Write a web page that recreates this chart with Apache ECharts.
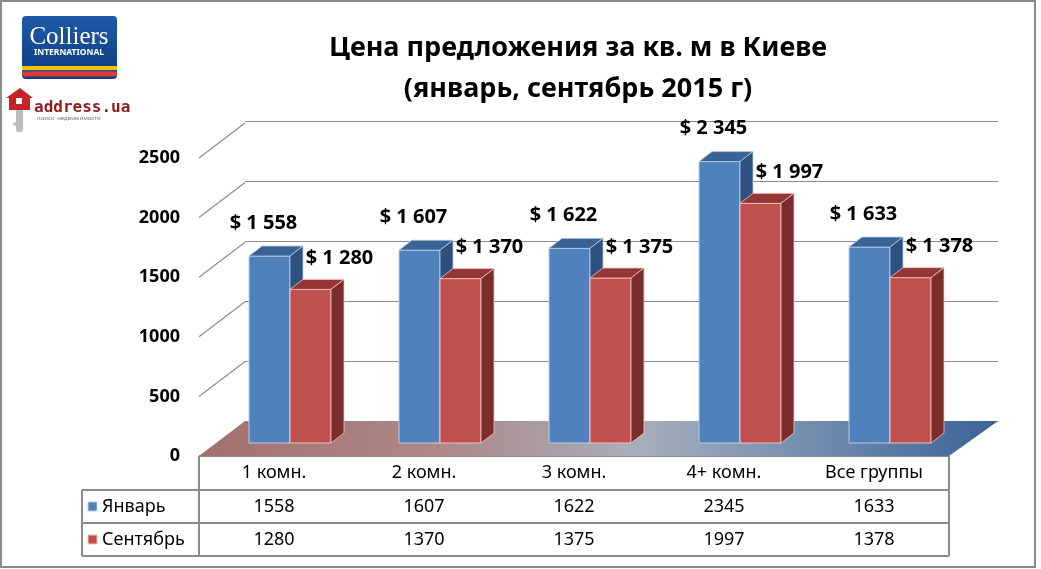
<!DOCTYPE html>
<html>
<head>
<meta charset="utf-8">
<script src="https://cdn.jsdelivr.net/npm/echarts@6/dist/echarts.min.js"></script>
<style>
  html, body { margin: 0; padding: 0; background: #fff; }
  #chart { width: 1041px; height: 569px; }
</style>
</head>
<body>
<div id="chart"></div>
<script>
// данные
var categories = ['1 комн.', '2 комн.', '3 комн.', '4+ комн.', 'Все группы'];
var january = [1558, 1607, 1622, 2345, 1633];
var september = [1280, 1370, 1375, 1997, 1378];
var seriesNames = ['Январь', 'Сентябрь'];
var yTicks = [0, 500, 1000, 1500, 2000, 2500];

var FONT = '"Noto Sans", "DejaVu Sans", sans-serif';
var chart = echarts.init(document.getElementById('chart'));

var pal = [
    { front: '#4f81bd', top: '#3a6395', side: '#2e5080', edge: '#b9cde5' },
    { front: '#c0504d', top: '#943634', side: '#7b2d2c', edge: '#f2c3c2' }
];

function money(v) {
    return '$ ' + String(v).replace(/\B(?=(\d{3})+(?!\d))/g, ' ');
}

// 3d bar: front + top + side face
function barItem(s) {
    return function (params, api) {
        var i = api.value(0), v = api.value(1);
        var base = api.coord([i, 0]);
        var top = api.coord([i, v]);
        var w = 41, dx = 13, dy = -10;
        var x0 = s === 0 ? base[0] - w : base[0];
        var c = pal[s];
        var lx = s === 0 ? x0 + w / 2 - 6 : x0 + w / 2 + 29;
        var ly = s === 0 ? top[1] - 33 : top[1] - 31;
        return {
            type: 'group',
            children: [
                { type: 'rect', shape: { x: x0, y: top[1], width: w, height: base[1] - top[1] },
                  style: { fill: c.front, stroke: c.edge, lineWidth: 1 } },
                { type: 'polygon', shape: { points: [[x0, top[1]], [x0 + w, top[1]], [x0 + w + dx, top[1] + dy], [x0 + dx, top[1] + dy]] },
                  style: { fill: c.top, stroke: c.edge, lineWidth: 0.8 } },
                { type: 'polygon', shape: { points: [[x0 + w, top[1]], [x0 + w + dx, top[1] + dy], [x0 + w + dx, base[1] + dy], [x0 + w, base[1]]] },
                  style: { fill: c.side, stroke: c.edge, lineWidth: 0.8 } },
                { type: 'text', z2: 10, style: { text: money(v), x: lx, y: ly, align: 'center', verticalAlign: 'middle',
                  fontFamily: FONT, fontSize: 20, fontWeight: 'bold', fill: '#000' } }
            ]
        };
    };
}

// table cells
var tableTexts = [];
var tableData = [];
categories.forEach(function (c, i) {
    tableData.push([i, 0]); tableTexts.push(c);
    tableData.push([i, 1]); tableTexts.push(String(january[i]));
    tableData.push([i, 2]); tableTexts.push(String(september[i]));
});
var rowY = [473, 507, 540];

var option = {
    animation: false,
    title: {
        text: 'Цена предложения за кв. м в Киеве\n(январь, сентябрь 2015 г)',
        left: 578, top: 28, textAlign: 'center', padding: 0,
        textStyle: { fontFamily: FONT, fontSize: 27, fontWeight: 'bold', color: '#000', lineHeight: 41 }
    },
    grid: [
        { left: 199, top: 158, width: 750, height: 298 },   // front plane
        { left: 245, top: 121, width: 753, height: 300 },   // back wall
        { left: 215, top: 143, width: 750, height: 300 }    // bar plane
    ],
    xAxis: [0, 1, 2].map(function (g) {
        return { type: 'category', gridIndex: g, data: categories, show: false };
    }),
    yAxis: [0, 1, 2].map(function (g) {
        return {
            type: 'value', gridIndex: g, min: 0, max: 2500, interval: 500,
            axisLine: { show: false }, axisTick: { show: false },
            splitLine: { show: g === 1, lineStyle: { color: '#8c8c8c', width: 1.2 } },
            axisLabel: g === 0 ? {
                margin: 19, fontFamily: FONT, fontSize: 18, fontWeight: 'bold', color: '#000',
                formatter: function (v) { return String(v); }
            } : { show: false }
        };
    }),
    series: [
        {   // floor + left wall diagonals
            type: 'custom', xAxisIndex: 0, yAxisIndex: 0, z: 1, silent: true,
            data: yTicks.map(function (t) { return [0, t]; }),
            renderItem: function (params, api) {
                var cs = params.coordSys;
                var t = api.value(1);
                var y = api.coord([0, t])[1];
                var x0 = cs.x;
                var children = [];
                if (t === 0) {
                    children.push({
                        type: 'polygon',
                        shape: { points: [[x0, y], [x0 + cs.width, y], [x0 + cs.width + 49, y - 35], [x0 + 46, y - 35]] },
                        style: {
                            fill: new echarts.graphic.LinearGradient(0, 1, 1, 0, [
                                { offset: 0, color: '#a3706e' },
                                { offset: 0.3, color: '#ad8887' },
                                { offset: 0.55, color: '#a6afbb' },
                                { offset: 0.8, color: '#6a87ac' },
                                { offset: 1, color: '#3a6397' }
                            ])
                        }
                    });
                } else {
                    children.push({
                        type: 'line', shape: { x1: x0, y1: y, x2: x0 + 46, y2: y - 35 },
                        style: { stroke: '#8c8c8c', lineWidth: 1.2 }
                    });
                }
                return { type: 'group', children: children };
            }
        },
        {
            name: seriesNames[0], type: 'custom', xAxisIndex: 2, yAxisIndex: 2, z: 3,
            data: january.map(function (v, i) { return [i, v]; }),
            renderItem: barItem(0)
        },
        {
            name: seriesNames[1], type: 'custom', xAxisIndex: 2, yAxisIndex: 2, z: 4,
            data: september.map(function (v, i) { return [i, v]; }),
            renderItem: barItem(1)
        },
        {   // data table text
            type: 'custom', xAxisIndex: 0, yAxisIndex: 0, z: 5, silent: true,
            data: tableData,
            renderItem: function (params, api) {
                var x = api.coord([api.value(0), 0])[0];
                return {
                    type: 'text',
                    style: { text: tableTexts[params.dataIndex], x: x, y: rowY[api.value(1)], align: 'center', verticalAlign: 'middle',
                        fontFamily: FONT, fontSize: 18, fill: '#000' }
                };
            }
        }
    ],
    graphic: [
        // outer frame
        { type: 'rect', shape: { x: 1, y: 1, width: 1034, height: 566 }, style: { fill: null, stroke: '#8c8c8c', lineWidth: 2 }, z: 0 },
        // table lines
        { type: 'line', shape: { x1: 199, y1: 456, x2: 949, y2: 456 }, style: { stroke: '#8c8c8c', lineWidth: 2 } },
        { type: 'line', shape: { x1: 82, y1: 490, x2: 949, y2: 490 }, style: { stroke: '#8c8c8c', lineWidth: 2 } },
        { type: 'line', shape: { x1: 82, y1: 523, x2: 949, y2: 523 }, style: { stroke: '#8c8c8c', lineWidth: 2 } },
        { type: 'line', shape: { x1: 82, y1: 556, x2: 949, y2: 556 }, style: { stroke: '#8c8c8c', lineWidth: 2 } },
        { type: 'line', shape: { x1: 82, y1: 490, x2: 82, y2: 556 }, style: { stroke: '#8c8c8c', lineWidth: 2 } },
        { type: 'line', shape: { x1: 199, y1: 456, x2: 199, y2: 556 }, style: { stroke: '#8c8c8c', lineWidth: 2 } },
        { type: 'line', shape: { x1: 949, y1: 456, x2: 949, y2: 556 }, style: { stroke: '#8c8c8c', lineWidth: 2 } },
        // legend keys in table
        { type: 'rect', shape: { x: 88, y: 502, width: 9, height: 9 }, style: { fill: pal[0].front, stroke: pal[0].edge, lineWidth: 1 } },
        { type: 'text', style: { text: seriesNames[0], x: 102, y: 507, verticalAlign: 'middle', fontFamily: FONT, fontSize: 18, fill: '#000' } },
        { type: 'rect', shape: { x: 88, y: 535, width: 9, height: 9 }, style: { fill: pal[1].front, stroke: pal[1].edge, lineWidth: 1 } },
        { type: 'text', style: { text: seriesNames[1], x: 102, y: 540, verticalAlign: 'middle', fontFamily: FONT, fontSize: 18, fill: '#000' } },
        // Colliers logo
        {
            type: 'group', left: 22, top: 16,
            children: [
                { type: 'rect', shape: { x: 0, y: 0, width: 95, height: 63, r: 4 },
                  style: { fill: new echarts.graphic.LinearGradient(0, 0, 0, 1, [{ offset: 0, color: '#1f5aa6' }, { offset: 1, color: '#0c3c80' }]) } },
                { type: 'text', style: { text: 'Colliers', x: 47, y: 21, align: 'center', verticalAlign: 'middle',
                  fontFamily: '"Liberation Serif", "DejaVu Serif", serif', fontSize: 25, fill: '#fff' } },
                { type: 'text', style: { text: 'INTERNATIONAL', x: 47, y: 37, align: 'center', verticalAlign: 'middle',
                  fontFamily: FONT, fontSize: 8.5, fontWeight: 'bold', fill: '#fff' } },
                { type: 'rect', shape: { x: 0, y: 50, width: 95, height: 4 }, style: { fill: '#f3c300' } },
                { type: 'rect', shape: { x: 0, y: 54, width: 95, height: 1.5 }, style: { fill: '#1f5aa6' } },
                { type: 'rect', shape: { x: 0, y: 55.5, width: 95, height: 5, r: [0, 0, 3, 3] }, style: { fill: '#e2382f' } }
            ]
        },
        // address.ua logo
        {
            type: 'group', left: 6, top: 88,
            children: [
                { type: 'rect', shape: { x: 10, y: 20, width: 7, height: 24, r: 2 }, style: { fill: '#bdbdbd' } },
                { type: 'polygon', shape: { points: [[10, 34], [6, 36], [10, 38]] }, style: { fill: '#bdbdbd' } },
                { type: 'polygon', shape: { points: [[0, 10], [14, 0], [27, 10], [24, 10], [24, 22], [3, 22], [3, 10]] }, style: { fill: '#c62229' } },
                { type: 'rect', shape: { x: 10, y: 10, width: 6, height: 6 }, style: { fill: '#fff' } },
                { type: 'text', style: { text: 'address.ua', x: 28, y: 20, verticalAlign: 'middle',
                  fontFamily: '"DejaVu Sans Mono", "Liberation Mono", monospace', fontSize: 16, fontWeight: 'bold', fill: '#8f1d1d' } },
                { type: 'text', style: { text: 'поиск  недвижимости', x: 31, y: 30, verticalAlign: 'middle',
                  fontFamily: FONT, fontSize: 6, fill: '#777' } }
            ]
        }
    ]
};

chart.setOption(option);
</script>
</body>
</html>
